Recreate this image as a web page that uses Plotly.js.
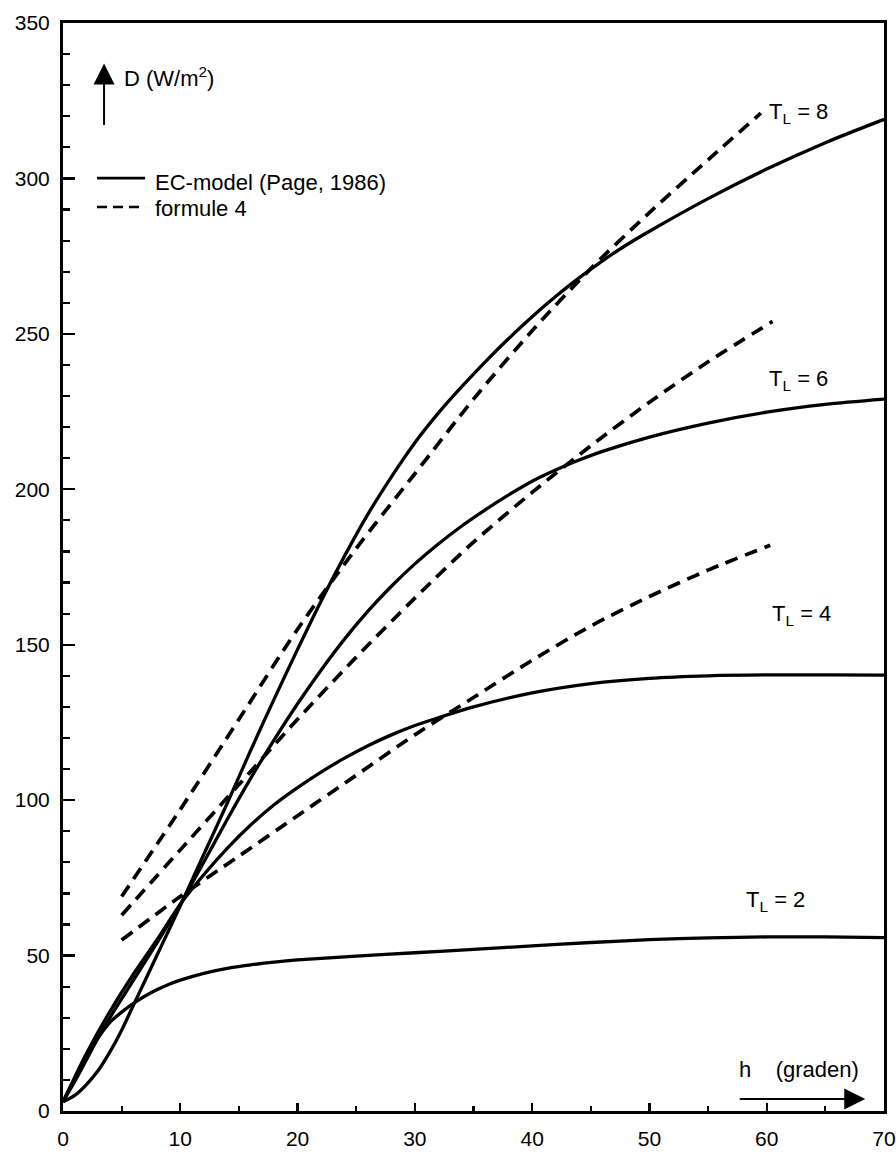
<!DOCTYPE html>
<html>
<head>
<meta charset="utf-8">
<script src="https://cdn.plot.ly/plotly-3.0.1.min.js"></script>
<style>html,body{margin:0;padding:0;background:#fff;}#chart{width:896px;height:1168px;}</style>
</head>
<body>
<div id="chart"></div>
<script>
// ---- Data (h in degrees, D in W/m2) ----
// EC-model (Page, 1986) - solid curves
const hEC2 = [0, 1, 2, 3, 4, 5, 6, 7, 8, 9, 10, 12, 14, 16, 18, 20, 25, 30, 35, 40, 45, 50, 55, 60, 65, 70];
const dEC2 = [3, 9.5, 16.5, 23.5, 28.5, 31.8, 34.6, 37, 39, 40.7, 42.1, 44.3, 45.9, 47, 47.9, 48.6, 49.8, 50.9, 52, 53.1, 54.2, 55.1, 55.7, 56, 56, 55.8];

const hEC4 = [0, 2, 4, 6, 8, 10, 12, 14, 16, 18, 20, 22, 24, 26, 28, 30, 32, 35, 40, 45, 50, 55, 60, 65, 70];
const dEC4 = [3, 18.5, 32, 44, 55, 66.5, 76, 84.5, 92, 98.5, 104, 109, 113.5, 117.5, 121, 124, 126.5, 130, 134.5, 137.5, 139.2, 140, 140.3, 140.3, 140.2];

const hEC6 = [0, 2, 4, 6, 8, 10, 12, 14, 16, 18, 20, 22, 24, 26, 28, 30, 32, 34, 36, 38, 40, 42, 44, 46, 50, 55, 60, 65, 70];
const dEC6 = [3, 17, 30, 42, 54, 66.5, 80, 93.8, 107, 119.4, 131, 141.8, 151.8, 160.8, 168.8, 176, 182.4, 188.2, 193.4, 198.2, 202.6, 206.2, 209.4, 212.2, 216.8, 221.3, 224.8, 227.3, 229];

const hEC8 = [0, 1, 2, 3, 4, 5, 6, 7, 8, 9, 10, 12, 14, 16, 18, 20, 22, 24, 26, 28, 30, 32, 34, 36, 38, 40, 42, 44, 46, 48, 50, 55, 60, 65, 70];
const dEC8 = [3, 5, 8.5, 13, 19, 26, 34, 42, 50, 58, 66, 82.5, 99, 116, 132.5, 148.5, 164, 178.5, 192, 204, 215, 224.5, 233, 241, 248.5, 255.5, 262, 268, 273.5, 278.5, 283, 293.5, 303, 311.5, 319];

// formule 4 - dashed curves
const hF4 = [5, 10, 15, 20, 25, 30, 35, 40, 45, 50, 55, 60.3];
const dF4 = [55, 69, 82, 95, 108, 121, 133, 145, 156, 165.5, 174, 182];

const hF6 = [5, 10, 15, 20, 25, 30, 35, 40, 45, 50, 55, 60.5];
const dF6 = [63, 84, 105, 126, 146, 165, 183, 199, 214, 228, 241, 254];

const hF8 = [5, 10, 15, 20, 25, 30, 35, 40, 45, 50, 55, 59.5];
const dF8 = [69, 97, 126, 155, 181, 205, 229, 251, 271, 289, 306, 321];

const xTicks = [0, 10, 20, 30, 40, 50, 60, 70];
const yTicks = [0, 50, 100, 150, 200, 250, 300, 350];

const seriesLabels = ['T<sub>L</sub> = 2', 'T<sub>L</sub> = 4', 'T<sub>L</sub> = 6', 'T<sub>L</sub> = 8'];
const legendLabels = ['EC-model (Page, 1986)', 'formule 4'];

// ---- Styling ----
const FONT = 'Liberation Sans, Arial, Helvetica, sans-serif';
const solid = {color: '#000', width: 3.3, shape: 'spline', smoothing: 0.8};
const dashed = {color: '#000', width: 3.7, dash: '13px,8px', shape: 'spline', smoothing: 0.8};

function tr(x, y, line, name) {
  return {x: x, y: y, type: 'scatter', mode: 'lines', line: line, name: name,
          showlegend: false, hoverinfo: 'x+y'};
}

const data = [
  tr(hEC2, dEC2, solid, legendLabels[0] + ' T_L=2'),
  tr(hEC4, dEC4, solid, legendLabels[0] + ' T_L=4'),
  tr(hEC6, dEC6, solid, legendLabels[0] + ' T_L=6'),
  tr(hEC8, dEC8, solid, legendLabels[0] + ' T_L=8'),
  tr(hF4, dF4, dashed, legendLabels[1] + ' T_L=4'),
  tr(hF6, dF6, dashed, legendLabels[1] + ' T_L=6'),
  tr(hF8, dF8, dashed, legendLabels[1] + ' T_L=8')
];

const annFont = {family: FONT, size: 22, color: '#000'};
function label(text, x, y) {
  return {text: text, x: x, y: y, xref: 'x', yref: 'y', xanchor: 'left', yanchor: 'middle',
          showarrow: false, font: annFont};
}

const layout = {
  width: 896, height: 1168,
  margin: {l: 63, r: 12, t: 23, b: 57, pad: 0},
  paper_bgcolor: '#fff', plot_bgcolor: '#fff',
  showlegend: false,
  font: {family: FONT, color: '#000', size: 21},
  xaxis: {
    range: [0, 70], tickvals: xTicks, ticks: 'inside', ticklen: 8, tickwidth: 2.2, tickcolor: '#000',
    minor: {dtick: 5, ticks: 'inside', ticklen: 5, tickwidth: 2.2, tickcolor: '#000'},
    showline: true, linewidth: 3, linecolor: '#000', mirror: true,
    showgrid: false, zeroline: false, ticklabelstandoff: 7,
    tickfont: {family: FONT, size: 21, color: '#000'}
  },
  yaxis: {
    range: [0, 350], tickvals: yTicks, ticks: 'inside', ticklen: 12, tickwidth: 2.2, tickcolor: '#000',
    minor: {dtick: 10, ticks: 'inside', ticklen: 7, tickwidth: 2.2, tickcolor: '#000'},
    showline: true, linewidth: 3, linecolor: '#000', mirror: true,
    showgrid: false, zeroline: false, ticklabelstandoff: 6,
    tickfont: {family: FONT, size: 21, color: '#000'}
  },
  shapes: [
    {type: 'line', xref: 'x', yref: 'y', x0: 2.9, x1: 7.0, y0: 300.1, y1: 300.1, line: {color: '#000', width: 2.6}},
    {type: 'line', xref: 'x', yref: 'y', x0: 2.9, x1: 7.0, y0: 290.8, y1: 290.8, line: {color: '#000', width: 2.6, dash: '10px,6px'}}
  ],
  annotations: [
    label(seriesLabels[3], 60.0, 321),
    label(seriesLabels[2], 60.0, 235),
    label(seriesLabels[1], 60.3, 159.5),
    label(seriesLabels[0], 58.1, 67.5),
    label(legendLabels[0], 7.7, 298.8),
    label(legendLabels[1], 7.7, 290.2),
    label('D (W/m<sup>2</sup>)', 5.0, 332.6),
    label('h\u00A0\u00A0\u00A0\u00A0(graden)', 57.5, 13.2),
    // arrow up next to D
    {x: 3.5, y: 337, xref: 'x', yref: 'y', ax: 0, ay: 63, axref: 'pixel', ayref: 'pixel',
     text: '', showarrow: true, arrowhead: 2, arrowsize: 2.1, arrowwidth: 2, arrowcolor: '#000', standoff: 0},
    // arrow right under h (graden)
    {x: 68.4, y: 3.9, xref: 'x', yref: 'y', ax: -127, ay: 0, axref: 'pixel', ayref: 'pixel',
     text: '', showarrow: true, arrowhead: 2, arrowsize: 2.1, arrowwidth: 2, arrowcolor: '#000', standoff: 0}
  ]
};

Plotly.newPlot('chart', data, layout, {staticPlot: true, displayModeBar: false});
</script>
</body>
</html>
